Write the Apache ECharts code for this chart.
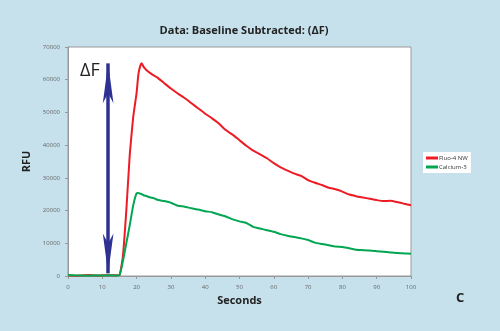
<!DOCTYPE html>
<html><head><meta charset="utf-8">
<script src="https://cdn.jsdelivr.net/npm/echarts@6/dist/echarts.min.js"></script>
<style>html,body{margin:0;padding:0;background:#c6e1ec;}#c{width:500px;height:331px;}</style>
</head><body><div id="c"></div>
<script>
const seconds = [0,2,4,6,8,10,12,14,15,16,17,18,19,20,20.5,21,21.5,22,23,24,25,26,28,30,32,34,36,38,40,42,44,46,48,50,52,54,56,58,60,62,64,66,68,70,72,74,76,78,80,82,84,86,88,90,92,94,96,98,100];
const fluo4 = [200,100,150,300,150,200,250,200,250,6000,20000,37000,48500,56000,61500,64000,65000,64000,62800,62000,61300,60700,
  59000,57300,55800,54400,52800,51200,49600,48200,46600,44600,43200,41500,39800,38300,37200,36000,34500,33200,32200,31300,30600,29300,28500,27800,27000,26500,25800,24900,24400,24000,23600,23200,22900,23000,22600,22100,21600];
const calcium3 = [300,200,150,100,200,150,200,150,200,4500,10000,15500,21500,25300,25400,25200,25000,24700,24400,24000,23800,23300,
  22900,22400,21500,21200,20700,20300,19800,19500,18800,18200,17300,16700,16200,15000,14500,14000,13500,12800,12300,11900,11500,11000,10200,9800,9400,9000,8900,8500,8000,7900,7800,7600,7400,7200,7000,6900,6800];
const seriesNames = ['Fluo-4 NW','Calcium-3'];
const arrowX = 11.7, arrowBottom = 800, arrowTop = 65000;

const chart = echarts.init(document.getElementById('c'));
const pairs = v => seconds.map((s,i)=>[s,v[i]]);
const axisLbl = {color:'#666', fontSize:6, fontFamily:'Open Sans', formatter:v=>String(v)};
chart.setOption({
  backgroundColor:'#c6e1ec',
  animation:false,
  title:{text:'Data: Baseline Subtracted: (\u0394F)', left:239, top:20, textAlign:'center',
    textStyle:{fontSize:11, fontWeight:'bold', color:'#222', fontFamily:'Open Sans'}},
  grid:{left:68, right:89, top:47, bottom:55, show:true, backgroundColor:'#fff', borderColor:'#999', borderWidth:1},
  legend:{orient:'vertical', left:423, top:152, backgroundColor:'#fff', padding:[3,3], itemGap:3,
    itemWidth:12, itemHeight:3, icon:'rect', data:seriesNames,
    textStyle:{fontSize:6, color:'#333', fontFamily:'Open Sans', padding:[0,0,0,-4]}},
  xAxis:{type:'value', min:0, max:100, interval:10, name:'Seconds', nameLocation:'middle', nameGap:17,
    nameTextStyle:{fontSize:11, fontWeight:'bold', color:'#222', fontFamily:'Open Sans'},
    axisLine:{show:true, lineStyle:{color:'#999'}}, axisTick:{show:true, length:3, lineStyle:{color:'#999'}},
    splitLine:{show:false}, axisLabel:axisLbl},
  yAxis:{type:'value', min:0, max:70000, interval:10000, name:'RFU', nameLocation:'middle', nameGap:30,
    nameTextStyle:{fontSize:11, fontWeight:'bold', color:'#222', fontFamily:'Open Sans'},
    axisLine:{show:true, lineStyle:{color:'#999'}}, axisTick:{show:true, length:3, lineStyle:{color:'#999'}},
    splitLine:{show:false}, axisLabel:axisLbl},
  graphic:[
    {type:'text', left:80, top:62, style:{text:'\u0394F', fontSize:18, fill:'#222', fontFamily:'Open Sans'}},
    {type:'text', left:456, top:292, style:{text:'C', fontSize:13, fontWeight:'bold', fill:'#222', fontFamily:'Open Sans'}}
  ],
  series:[
    {name:seriesNames[0], type:'line', data:pairs(fluo4), showSymbol:false, smooth:0.15,
      lineStyle:{color:'#ed1c24', width:2}, itemStyle:{color:'#ed1c24'}, z:3},
    {name:seriesNames[1], type:'line', data:pairs(calcium3), showSymbol:false, smooth:0.15,
      lineStyle:{color:'#00a651', width:2}, itemStyle:{color:'#00a651'}, z:3,
      markLine:{silent:true, symbol:['arrow','arrow'], symbolSize:[8,40], label:{show:false},
        lineStyle:{color:'#2e3192', width:3.5, type:'solid'},
        data:[[{coord:[arrowX, arrowBottom]},{coord:[arrowX, arrowTop]}]]}}
  ]
});
</script></body></html>
